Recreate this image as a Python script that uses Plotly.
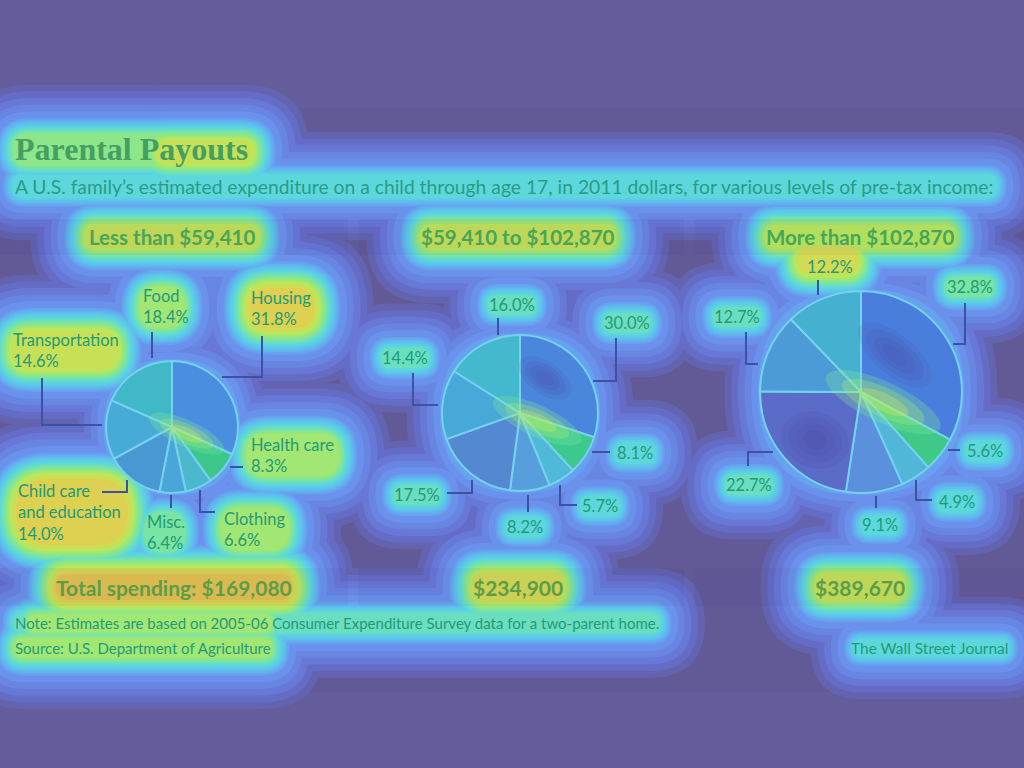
import math
import plotly.graph_objects as go

W, H = 1024, 768

# ---------------- data ----------------
categories = ["Housing", "Health care", "Clothing", "Misc.", "Child care and education", "Transportation", "Food"]
income_groups = ["Less than $59,410", "$59,410 to $102,870", "More than $102,870"]
low_income = [31.8, 8.3, 6.6, 6.4, 14.0, 14.6, 18.4]
mid_income = [30.0, 8.1, 5.7, 8.2, 17.5, 14.4, 16.0]
high_income = [32.8, 5.6, 4.9, 9.1, 22.7, 12.7, 12.2]
totals = ["Total spending: $169,080", "$234,900", "$389,670"]

title = "Parental Payouts"
subtitle = ("A U.S. family\u2019s estimated expenditure on a child through age 17, "
            "in 2011 dollars, for various levels of pre-tax income:")
note = "Note: Estimates are based on 2005-06 Consumer Expenditure Survey data for a two-parent home."
source = "Source: U.S. Department of Agriculture"
credit = "The Wall Street Journal"

# ---------------- style ----------------
pie_colors = [
    ["#4a8ee0", "#3cc68a", "#4cb8cc", "#4aa6d8", "#4a98d2", "#48aad6", "#40b8c8"],
    ["#4a86dc", "#3cc88e", "#50b8d8", "#569edc", "#5488d0", "#48a8d8", "#44b8cc"],
    ["#4a7edc", "#40c888", "#52b6d8", "#5a90dc", "#5a6cc8", "#4c9ad6", "#46b0d0"],
]
TEXT = "#229a7a"
LINE = "#3c52a6"
BG = "#635d9c"
PANEL = "#615a97"
RAMP = [(0.0, "#615a97"), (0.12, "#6670d0"), (0.25, "#6a92ec"), (0.38, "#5fbcf0"),
        (0.5, "#5cd8dc"), (0.62, "#80e698"), (0.75, "#b8e85c"), (0.88, "#dcd650"), (1.0, "#e8b44e")]


def X(px):
    return px / W


def Y(py):
    return 1 - py / H


def hex2rgb(h):
    return tuple(int(h[i:i + 2], 16) for i in (1, 3, 5))


def ramp(h):
    for (h0, c0), (h1, c1) in zip(RAMP[:-1], RAMP[1:]):
        if h <= h1:
            t = (h - h0) / (h1 - h0)
            a, b = hex2rgb(c0), hex2rgb(c1)
            return "rgb(%d,%d,%d)" % tuple(round(a[i] + (b[i] - a[i]) * t) for i in range(3))
    return RAMP[-1][1]


def capsule(cx, cy, hw, hh):
    r = min(hw, hh)
    x0, x1, y0, y1 = cx - hw, cx + hw, cy - hh, cy + hh
    pts = [("M", x0 + r, y0), ("L", x1 - r, y0), ("Q", x1, y0, x1, y0 + r), ("L", x1, y1 - r),
           ("Q", x1, y1, x1 - r, y1), ("L", x0 + r, y1), ("Q", x0, y1, x0, y1 - r),
           ("L", x0, y0 + r), ("Q", x0, y0, x0 + r, y0)]
    out = []
    for p in pts:
        cmd, coords = p[0], p[1:]
        xy = [f"{X(coords[i]):.5f},{Y(coords[i + 1]):.5f}" for i in range(0, len(coords), 2)]
        out.append(cmd + " " + " ".join(xy))
    return " ".join(out) + " Z"


def rot_ellipse(cx, cy, rx, ry, ang):
    a = math.radians(ang)
    pts = []
    for i in range(48):
        t = 2 * math.pi * i / 48
        ex, ey = rx * math.cos(t), ry * math.sin(t)
        px = cx + ex * math.cos(a) - ey * math.sin(a)
        py = cy + ex * math.sin(a) + ey * math.cos(a)
        pts.append(f"{X(px):.5f},{Y(py):.5f}")
    return "M " + " L ".join(pts) + " Z"


fig = go.Figure()

pie_geo = [(172, 427, 66), (520, 413, 78), (861, 392, 101)]
for vals, (cx, cy, r), name, cols in zip([low_income, mid_income, high_income], pie_geo,
                                         income_groups, pie_colors):
    fig.add_trace(go.Pie(
        labels=categories, values=vals, sort=False, direction="clockwise", rotation=0,
        textinfo="none", hoverinfo="label+percent", name=name,
        marker=dict(colors=cols, line=dict(color="#74d2f0", width=2)),
        domain=dict(x=[X(cx - r), X(cx + r)], y=[Y(cy + r), Y(cy - r)]),
        showlegend=False,
    ))

shapes = []
shapes.append(dict(type="rect", xref="paper", yref="paper", x0=0, x1=1, y0=Y(692), y1=Y(108),
                   fillcolor=PANEL, line=dict(width=0), layer="below"))

# glow halos: (cx, cy, half width, half height, peak heat 0..1)
glows = [
    (135, 150, 120, 14, 0.66), (205, 152, 45, 8, 0.84),
    (505, 186, 490, 9, 0.52),
    (172, 237, 84, 9, 0.8), (518, 237, 94, 9, 0.8), (860, 237, 92, 9, 0.78),
    (162, 307, 20, 18, 0.72), (282, 308, 30, 18, 0.9), (65, 350, 52, 18, 0.8),
    (293, 455, 43, 18, 0.74), (72, 512, 53, 30, 0.92), (165, 532, 18, 18, 0.62), (255, 529, 31, 18, 0.74),
    (627, 323, 22, 8, 0.55), (635, 453, 18, 8, 0.52), (600, 506, 18, 8, 0.52), (525, 527, 18, 8, 0.52),
    (417, 495, 22, 8, 0.55), (405, 358, 22, 8, 0.55), (512, 305, 22, 8, 0.55),
    (970, 287, 22, 8, 0.6), (985, 451, 18, 8, 0.52), (957, 502, 18, 8, 0.52), (880, 525, 18, 8, 0.5),
    (749, 485, 22, 8, 0.55), (737, 317, 22, 8, 0.55), (828, 260, 26, 10, 0.88),
    (174, 587, 116, 11, 0.95), (518, 587, 42, 11, 0.86), (860, 587, 42, 11, 0.8),
    (337, 623, 320, 7, 0.58), (150, 623, 120, 7, 0.7), (143, 648, 126, 7, 0.72), (931, 648, 76, 7, 0.5),
    (172, 427, 66, 66, 0.3), (520, 413, 78, 78, 0.3), (861, 392, 101, 101, 0.3),
]
N = 20
for j in range(1, N + 1):
    h = j / N
    for cx, cy, hw, hh, peak in glows:
        if peak < h:
            continue
        pad = (peak - h) * 44 + max(0.0, 0.3 - h) * 90 + 2
        shapes.append(dict(type="path", xref="paper", yref="paper",
                           path=capsule(cx, cy, hw + pad, hh + pad),
                           fillcolor=ramp(h), line=dict(width=0), layer="below"))

# faint column bands for headers and totals
for x0, x1 in [(0, 348), (358, 684), (694, 1024)]:
    for y0, y1 in [(219, 255), (568, 606)]:
        shapes.append(dict(type="rect", xref="paper", yref="paper", x0=X(x0), x1=X(x1),
                           y0=Y(y1), y1=Y(y0), fillcolor="rgba(50,40,110,0.05)",
                           line=dict(width=0), layer="below"))

# soft highlights and shadows on the pies (drawn above the slices)
for (cx, cy, r) in pie_geo:
    for k, col in enumerate(["#7ee8a0", "#a8ee70", "#d8f050"]):
        f = 1 - k * 0.28
        shapes.append(dict(type="path", xref="paper", yref="paper",
                           path=rot_ellipse(cx + 0.22 * r, cy + 0.1 * r, 0.62 * r * f, 0.2 * r * f, 25),
                           fillcolor=col, opacity=0.3, line=dict(width=0), layer="above"))
shadows = [(545, 378, 30, 16, 35), (895, 355, 45, 20, 40), (815, 440, 35, 28, 20)]
for cx, cy, rx, ry, ang in shadows:
    for k in range(4):
        f = 1 - k * 0.22
        shapes.append(dict(type="path", xref="paper", yref="paper",
                           path=rot_ellipse(cx, cy, rx * f, ry * f, ang),
                           fillcolor="#4a44a0", opacity=0.12, line=dict(width=0), layer="above"))

leaders = [
    [(152, 332), (152, 358)],
    [(262, 336), (262, 377), (222, 377)],
    [(42, 378), (42, 425), (102, 425)],
    [(230, 467), (243, 467)],
    [(102, 492), (127, 492), (127, 480)],
    [(171, 495), (171, 508)],
    [(200, 490), (200, 512), (215, 512)],
    [(498, 318), (498, 335)],
    [(616, 338), (616, 381), (593, 381)],
    [(413, 373), (413, 405), (438, 405)],
    [(592, 452), (610, 452)],
    [(560, 485), (560, 505), (577, 505)],
    [(528, 495), (528, 512)],
    [(447, 493), (472, 493), (472, 480)],
    [(818, 280), (818, 295)],
    [(965, 303), (965, 344), (953, 344)],
    [(746, 332), (746, 364), (758, 364)],
    [(948, 450), (960, 450)],
    [(916, 480), (916, 500), (932, 500)],
    [(876, 496), (876, 508)],
    [(748, 466), (748, 452), (773, 452)],
]
for pts in leaders:
    path = "M " + " L ".join(f"{X(px):.5f},{Y(py):.5f}" for px, py in pts)
    shapes.append(dict(type="path", xref="paper", yref="paper", path=path,
                       line=dict(color=LINE, width=2)))

ann = []


def txt(text, px, py, size, color=TEXT, family="Lato", xanchor="left", bold=False):
    if bold:
        text = f"<b>{text}</b>"
    ann.append(dict(text=text, x=X(px), y=Y(py), xref="paper", yref="paper", showarrow=False,
                    xanchor=xanchor, yanchor="middle",
                    align={"left": "left", "center": "center", "right": "right"}[xanchor],
                    font=dict(size=size, color=color, family=family)))


txt(title, 13, 149, 32, color="#44a062", family="Liberation Serif", bold=True)
txt(subtitle, 13, 186, 19.3, color="#2a9c86")
for g, cx in zip(income_groups, [172, 518, 860]):
    txt(g, cx, 237, 20.5, color="#46a65a", xanchor="center", bold=True)
for t, cx in zip(totals, [174, 518, 860]):
    txt(t, cx, 587, 21, color="#5a9e4a", xanchor="center", bold=True)
txt(note, 13, 623, 15)
txt(source, 13, 648, 15)
txt(credit, 1010, 648, 15.5, xanchor="right")


def lab(name, v):
    return f"{name}<br>{v:.1f}%"


txt(lab("Food", low_income[6]), 141, 307, 16.5)
txt(lab("Housing", low_income[0]), 249, 308, 16.5)
txt(lab("Transportation", low_income[5]), 11, 350, 16.5)
txt(lab("Health care", low_income[1]), 249, 455, 16.5)
txt(f"Child care<br>and education<br>{low_income[4]:.1f}%", 16, 512, 16.5)
txt(lab("Misc.", low_income[3]), 145, 532, 16.5)
txt(lab("Clothing", low_income[2]), 222, 529, 16.5)

mid_pos = [(627, 323), (635, 453), (600, 506), (525, 527), (417, 495), (405, 358), (512, 305)]
for v, (px, py) in zip(mid_income, mid_pos):
    txt(f"{v:.1f}%", px, py, 16.5, xanchor="center")
high_pos = [(970, 287), (985, 451), (957, 502), (880, 525), (749, 485), (737, 317), (830, 267)]
for v, (px, py) in zip(high_income, high_pos):
    txt(f"{v:.1f}%", px, py, 16.5, xanchor="center")

fig.update_layout(
    width=W, height=H, margin=dict(l=0, r=0, t=0, b=0),
    paper_bgcolor=BG, plot_bgcolor=BG,
    shapes=shapes, annotations=ann,
)

fig.write_html("out.html")
